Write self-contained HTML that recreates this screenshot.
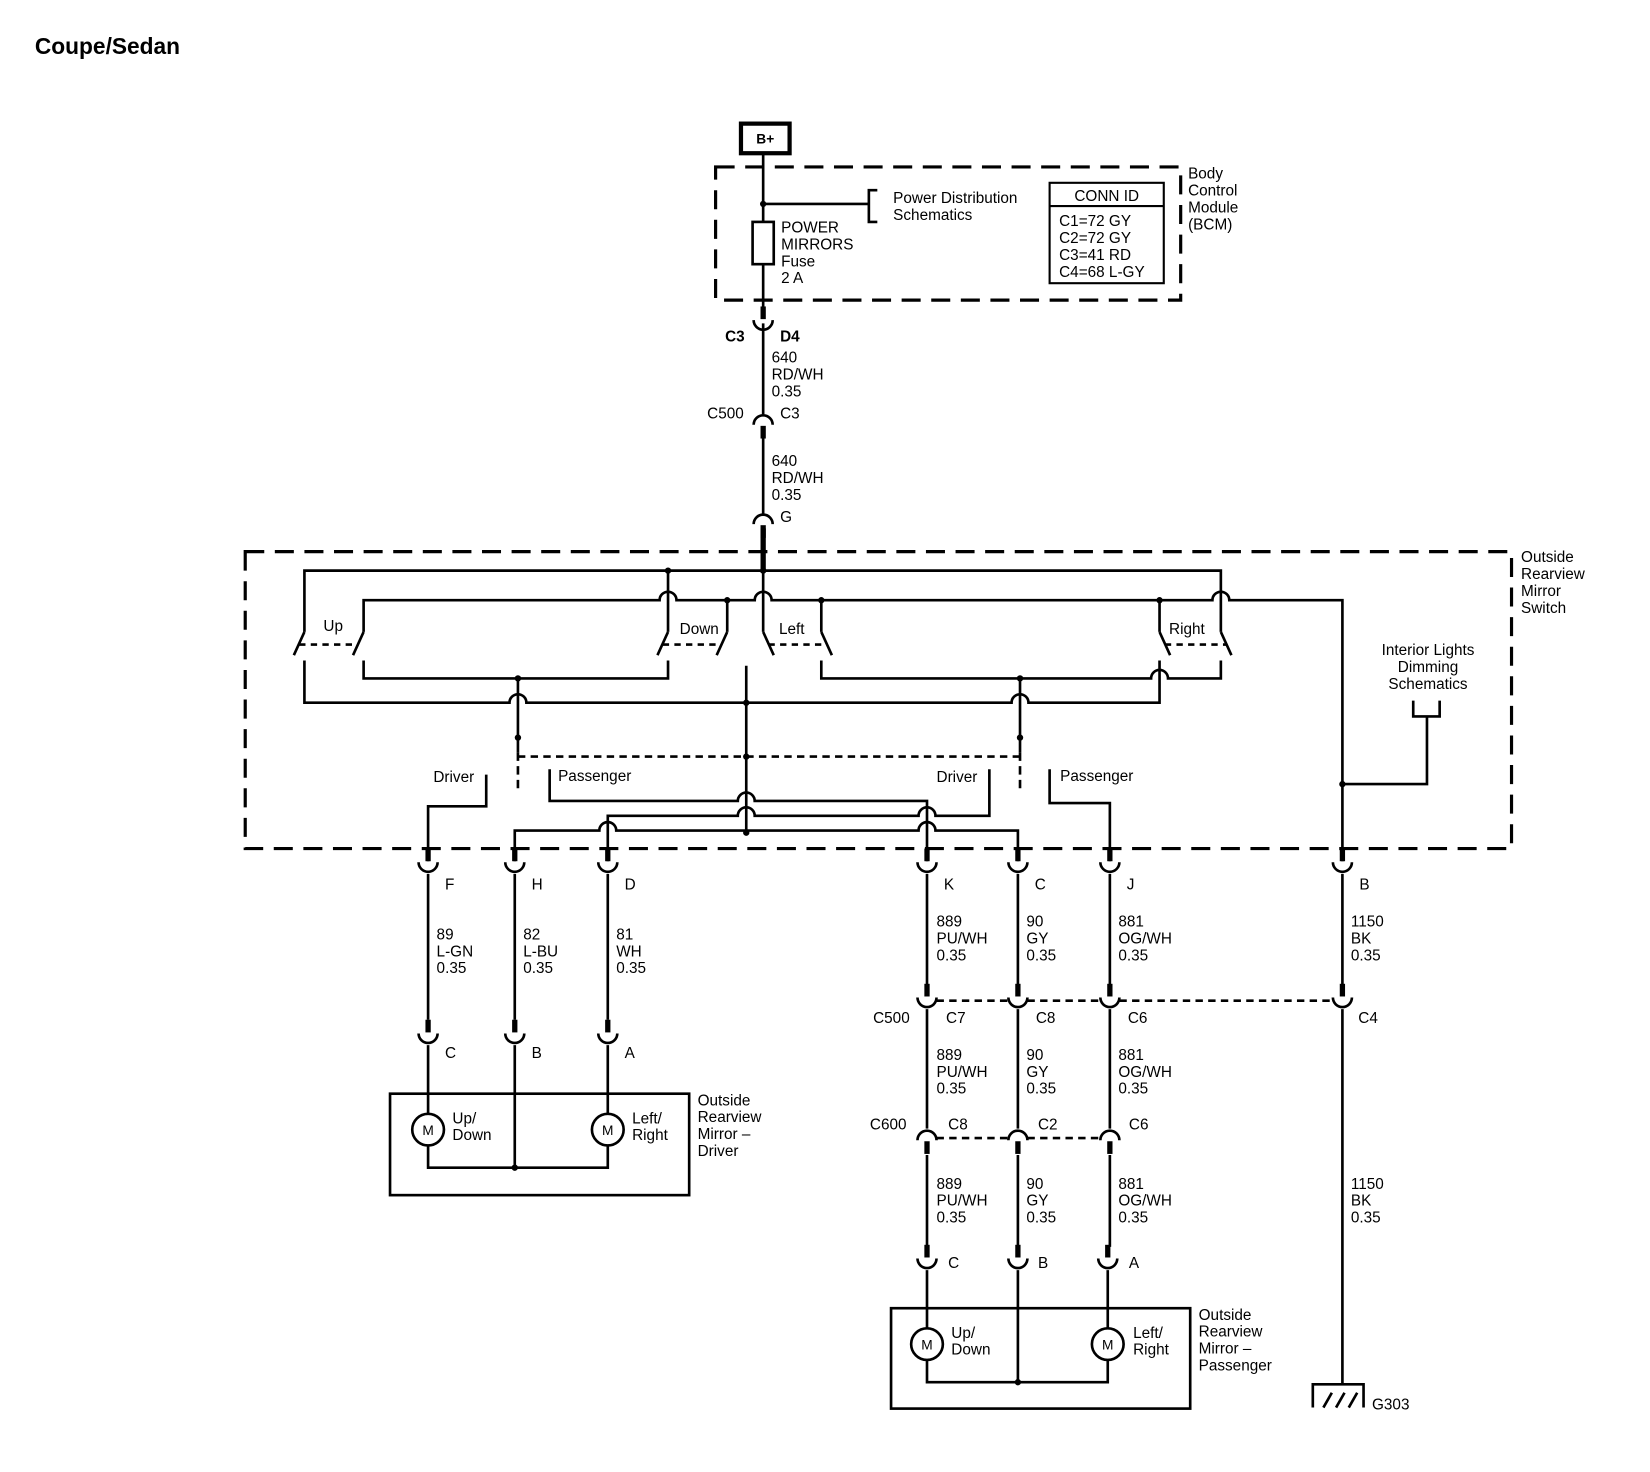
<!DOCTYPE html>
<html><head><meta charset="utf-8"><style>
html,body{margin:0;padding:0;background:#fff;}
svg{display:block;}
text{font-family:"Liberation Sans",sans-serif;font-size:14.5px;fill:#000;}
.b{font-weight:bold;}
</style></head><body>
<svg width="1650" height="1472" viewBox="0 0 1561 1393" preserveAspectRatio="none" xmlns="http://www.w3.org/2000/svg">
<defs>
<g id="cd"><rect x="-2.5" y="-15" width="5" height="12" fill="#000"/><path d="M-9,-2 A9,9 0 0 0 9,-2" fill="none" stroke="#000" stroke-width="2.5"/></g>
<g id="cu"><rect x="-2.5" y="3" width="5" height="12" fill="#000"/><path d="M-9,2 A9,9 0 0 1 9,2" fill="none" stroke="#000" stroke-width="2.5"/></g>
</defs>
<rect width="1561" height="1393" fill="#fff"/>
<text x="33" y="51" class="b" style="font-size:21.5px">Coupe/Sedan</text>

<g fill="none" stroke="#000" stroke-width="2.5">
<rect x="701" y="117" width="46" height="28" stroke-width="4"/>
<rect x="677" y="158" width="440" height="126" stroke-width="3" stroke-dasharray="18 10"/>
<path d="M722 145 V292"/>
<path d="M722 193 H822 M830 180 H822 V210 H830"/>
<rect x="712" y="210" width="20" height="40" fill="#fff"/>
<rect x="993" y="173" width="108" height="95" stroke-width="2"/>
<path d="M993 195 H1101" stroke-width="2"/>
<path d="M722 306 V392 M722 412 V488 M722 508 V540"/>
<path d="M722 500 V540" stroke-width="5"/>
<rect x="232" y="522" width="1198" height="281" stroke-width="3" stroke-dasharray="18 10"/>
<path d="M288 598 V540 H1155 V598"/>
<path d="M344 598 V568 H624 A8 8 0 0 1 640 568 H714 A8 8 0 0 1 730 568 H1147 A8 8 0 0 1 1163 568 H1270 V815"/>
<path d="M632 540 V598 M722 540 V598 M688 568 V598 M777 568 V598 M1097 568 V598"/>
<path d="M288 598 L278 620 M344 598 L334 620 M632 598 L622 620 M688 598 L678 620 M722 598 L732 620 M777 598 L787 620 M1097 598 L1107 620 M1155 598 L1165 620"/>
<path d="M283 610 H339 M627 610 H683 M727 610 H782 M1102 610 H1160" stroke-dasharray="6 5"/>
<path d="M288 625 V665 H482 A8 8 0 0 1 498 665 H957 A8 8 0 0 1 973 665 H1097 V625"/>
<path d="M344 625 V642 H632 V625"/>
<path d="M777 625 V642 H1089 A8 8 0 0 1 1105 642 H1155 V625"/>
<path d="M490 642 V712"/><path d="M490 712 V750" stroke-dasharray="8 5"/>
<path d="M965 642 V712"/><path d="M965 712 V750" stroke-dasharray="8 5"/>
<path d="M490 716 H965" stroke-dasharray="7 5"/>
<path d="M706 630 V788"/>
<path d="M460 733 V763 H405 V803"/>
<path d="M520 728 V758 H698 A8 8 0 0 1 714 758 H877 V803"/>
<path d="M936 728 V772 H885 A8 8 0 0 0 869 772 H714 A8 8 0 0 0 698 772 H575 V803"/>
<path d="M487 803 V786 H567 A8 8 0 0 1 583 786 H869 A8 8 0 0 1 885 786 H963 V803"/>
<path d="M993 728 V760 H1050 V803"/>
<path d="M1270 742 H1350 V678 M1337 663 V678 H1362 V663"/>
<path d="M405 803 V815 M487 803 V815 M575 803 V815 M877 803 V815 M963 803 V815 M1050 803 V815"/>
<path d="M405 827 V965 M487 827 V965 M575 827 V965"/>
<path d="M405 989 V1054 M405 1084 V1105 H575 V1084 M575 989 V1054 M487 989 V1105"/>
<path d="M877 827 V932 M963 827 V932 M1050 827 V932 M1270 827 V932 M1270 955 V1310"/>
<path d="M877 955 V1068 M963 955 V1068 M1050 955 V1068"/>
<path d="M877 1093 V1180 M963 1093 V1180 M1050 1093 V1180"/>
<path d="M877 1202 V1257 M877 1287 V1308 H1048 V1287 M1048 1202 V1257 M963 1202 V1308"/>
<path d="M886 947 H954 M972 947 H1041 M1059 947 H1261" stroke-dasharray="7 5"/>
<path d="M886 1077 H954 M972 1077 H1041" stroke-dasharray="7 5"/>
<rect x="369" y="1035" width="283" height="96"/>
<rect x="843" y="1238" width="283" height="95"/>
<circle cx="405" cy="1069" r="15"/><circle cx="575" cy="1069" r="15"/>
<circle cx="877" cy="1272" r="15"/><circle cx="1048" cy="1272" r="15"/>
<path d="M1242 1332 V1310 H1290 V1332 M1252 1332 L1260 1318 M1264 1332 L1272 1318 M1276 1332 L1284 1318"/>
</g>
<g fill="#000">
<circle cx="722" cy="193" r="3"/>
<circle cx="632" cy="540" r="3"/><circle cx="722" cy="540" r="3"/>
<circle cx="688" cy="568" r="3"/><circle cx="777" cy="568" r="3"/><circle cx="1097" cy="568" r="3"/>
<circle cx="490" cy="642" r="3"/><circle cx="965" cy="642" r="3"/>
<circle cx="706" cy="665" r="3"/><circle cx="490" cy="698" r="3"/><circle cx="965" cy="698" r="3"/>
<circle cx="706" cy="716" r="3"/><circle cx="706" cy="788" r="3"/>
<circle cx="1270" cy="742" r="3"/>
<circle cx="487" cy="1105" r="3"/><circle cx="963" cy="1308" r="3"/>
</g>
<use href="#cd" x="722" y="305"/>
<use href="#cu" x="722" y="400"/>
<use href="#cu" x="722" y="494"/>
<use href="#cd" x="405" y="818"/><use href="#cd" x="487" y="818"/><use href="#cd" x="575" y="818"/>
<use href="#cd" x="877" y="818"/><use href="#cd" x="963" y="818"/><use href="#cd" x="1050" y="818"/><use href="#cd" x="1270" y="818"/>
<use href="#cd" x="405" y="980"/><use href="#cd" x="487" y="980"/><use href="#cd" x="575" y="980"/>
<use href="#cd" x="877" y="946"/><use href="#cd" x="963" y="946"/><use href="#cd" x="1050" y="946"/><use href="#cd" x="1270" y="946"/>
<use href="#cu" x="877" y="1077"/><use href="#cu" x="963" y="1077"/><use href="#cu" x="1050" y="1077"/>
<use href="#cd" x="877" y="1193"/><use href="#cd" x="963" y="1193"/><use href="#cd" x="1048" y="1193"/>

<text x="724" y="136" class="b" text-anchor="middle" style="font-size:13px">B+</text>
<text x="845" y="192">Power Distribution</text><text x="845" y="208">Schematics</text>
<text x="739" y="220">POWER</text><text x="739" y="236">MIRRORS</text><text x="739" y="252">Fuse</text><text x="739" y="268">2 A</text>
<text x="1047" y="190" text-anchor="middle">CONN ID</text>
<text x="1002" y="214">C1=72 GY</text><text x="1002" y="230">C2=72 GY</text><text x="1002" y="246">C3=41 RD</text><text x="1002" y="262">C4=68 L-GY</text>
<text x="1124" y="169">Body</text><text x="1124" y="185">Control</text><text x="1124" y="201">Module</text><text x="1124" y="217">(BCM)</text>
<text x="686" y="323" class="b">C3</text><text x="738" y="323" class="b">D4</text>
<text x="730" y="343">640</text><text x="730" y="359">RD/WH</text><text x="730" y="375">0.35</text>
<text x="669" y="396">C500</text><text x="738" y="396">C3</text>
<text x="730" y="441">640</text><text x="730" y="457">RD/WH</text><text x="730" y="473">0.35</text>
<text x="738" y="494">G</text>
<text x="1439" y="532">Outside</text><text x="1439" y="548">Rearview</text><text x="1439" y="564">Mirror</text><text x="1439" y="580">Switch</text>
<text x="306" y="597">Up</text><text x="643" y="600">Down</text><text x="737" y="600">Left</text><text x="1106" y="600">Right</text>
<text x="1351" y="620" text-anchor="middle">Interior Lights</text><text x="1351" y="636" text-anchor="middle">Dimming</text><text x="1351" y="652" text-anchor="middle">Schematics</text>
<text x="410" y="740">Driver</text><text x="528" y="739">Passenger</text><text x="886" y="740">Driver</text><text x="1003" y="739">Passenger</text>
<text x="421" y="842">F</text><text x="503" y="842">H</text><text x="591" y="842">D</text><text x="893" y="842">K</text><text x="979" y="842">C</text><text x="1066" y="842">J</text><text x="1286" y="842">B</text>
<text x="413" y="889">89</text><text x="413" y="905">L-GN</text><text x="413" y="921">0.35</text>
<text x="495" y="889">82</text><text x="495" y="905">L-BU</text><text x="495" y="921">0.35</text>
<text x="583" y="889">81</text><text x="583" y="905">WH</text><text x="583" y="921">0.35</text>
<g id="wr">
<text x="886" y="877">889</text><text x="886" y="893">PU/WH</text><text x="886" y="909">0.35</text>
<text x="971" y="877">90</text><text x="971" y="893">GY</text><text x="971" y="909">0.35</text>
<text x="1058" y="877">881</text><text x="1058" y="893">OG/WH</text><text x="1058" y="909">0.35</text>
</g>
<text x="1278" y="877">1150</text><text x="1278" y="893">BK</text><text x="1278" y="909">0.35</text>
<text x="826" y="968">C500</text><text x="895" y="968">C7</text><text x="980" y="968">C8</text><text x="1067" y="968">C6</text><text x="1285" y="968">C4</text>
<use href="#wr" y="126"/>
<text x="823" y="1069">C600</text><text x="897" y="1069">C8</text><text x="982" y="1069">C2</text><text x="1068" y="1069">C6</text>
<use href="#wr" y="248"/>
<text x="1278" y="1125">1150</text><text x="1278" y="1141">BK</text><text x="1278" y="1157">0.35</text>
<text x="421" y="1001">C</text><text x="503" y="1001">B</text><text x="591" y="1001">A</text>
<text x="897" y="1200">C</text><text x="982" y="1200">B</text><text x="1068" y="1200">A</text>
<text x="405" y="1074" text-anchor="middle" style="font-size:13px">M</text><text x="575" y="1074" text-anchor="middle" style="font-size:13px">M</text>
<text x="877" y="1277" text-anchor="middle" style="font-size:13px">M</text><text x="1048" y="1277" text-anchor="middle" style="font-size:13px">M</text>
<text x="428" y="1063">Up/</text><text x="428" y="1079">Down</text><text x="598" y="1063">Left/</text><text x="598" y="1079">Right</text>
<text x="900" y="1266">Up/</text><text x="900" y="1282">Down</text><text x="1072" y="1266">Left/</text><text x="1072" y="1282">Right</text>
<text x="660" y="1046">Outside</text><text x="660" y="1062">Rearview</text><text x="660" y="1078">Mirror –</text><text x="660" y="1094">Driver</text>
<text x="1134" y="1249">Outside</text><text x="1134" y="1265">Rearview</text><text x="1134" y="1281">Mirror –</text><text x="1134" y="1297">Passenger</text>
<text x="1298" y="1334">G303</text>
</svg>
</body></html>
